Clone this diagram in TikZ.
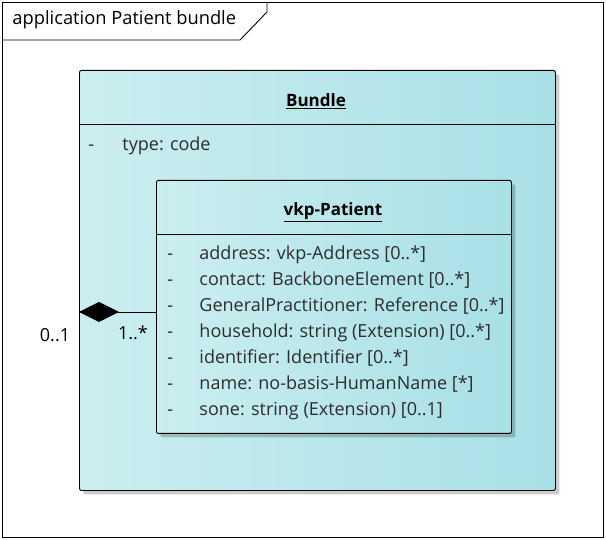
\documentclass[tikz,border=0pt]{standalone}
\usepackage{fontspec}
\setmainfont{Open Sans}
\usetikzlibrary{arrows.meta,shadows}
\definecolor{ClassLeft}{RGB}{203,238,240}
\definecolor{ClassRight}{RGB}{168,224,230}
\definecolor{AttrText}{RGB}{45,45,45}

\begin{document}
\begin{tikzpicture}[x=1pt, y=-1pt, line width=0.9pt,
        classbox/.style={draw, rounded corners=2pt, left color=ClassLeft, right color=ClassRight,
                         drop shadow={shadow xshift=4pt, shadow yshift=-4pt, opacity=0.2, fill=black},
                         inner sep=0pt, anchor=north west},
        classname/.style={font=\fontsize{17}{20}\selectfont\bfseries, inner sep=0pt},
        attr/.style={font=\fontsize{18}{21}\selectfont, text=AttrText, anchor=base west, inner sep=0pt},
        mult/.style={font=\fontsize{18}{21}\selectfont, inner sep=0pt},
        comp/.style={-{Diamond[length=40pt, width=20pt]}, line width=0.9pt}
    ]
        \useasboundingbox (0,0) rectangle (606,540);

        \draw (2,2) rectangle (603,537);
        \draw (2,40) -- (240,40) -- (267,12) -- (267,2);
        \node[font=\fontsize{18.3}{21}\selectfont, anchor=west, inner sep=0pt] (frametitle) at (12,20) {application Patient bundle};

        \node[classbox, minimum width=476pt, minimum height=420pt] (bundle) at (79,70) {};
        \draw (79,124) -- (555,124);
        \node[classname] (bundle-name) at (316,101) {\underline{Bundle}};
        \node[attr] (bundle-dash) at (88,151) {-};
        \node[attr] (bundle-attr) at (122,151) {type: code};

        \node[classbox, minimum width=355pt, minimum height=253pt] (patient) at (156,180) {};
        \draw (156,234) -- (511,234);
        \node[classname] (patient-name) at (333,212) {\underline{vkp-Patient}};
        \foreach \txt [count=\i] in {address: vkp-Address [0..*], contact: BackboneElement [0..*],
                GeneralPractitioner: Reference [0..*], household: string (Extension) [0..*],
                identifier: Identifier [0..*], name: no-basis-HumanName [*], sone: string (Extension) [0..1]} {
            \node[attr] (patient-dash-\i) at (167,{234+26*\i}) {-};
            \node[attr] (patient-attr-\i) at (199,{234+26*\i}) {\txt};
        }

        \coordinate (compo) at (79,312);
        \draw[comp] (patient.west |- compo) -- (bundle.west |- compo);
        \node[mult] (mult-whole) at (55,335) {0..1};
        \node[mult] (mult-part) at (133,333) {1..*};
    \end{tikzpicture}
\end{document}
